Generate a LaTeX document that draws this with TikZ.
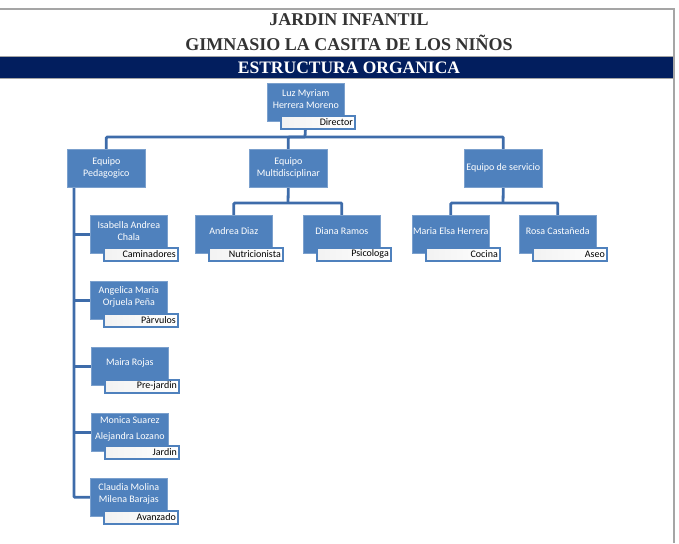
\documentclass[tikz,border=0pt]{standalone}
\usepackage{fontspec}
\setmainfont{Liberation Serif}
\newfontfamily\calibri{Carlito}
\usetikzlibrary{backgrounds}
\definecolor{boxblue}{RGB}{79,129,189}
\definecolor{lineblue}{RGB}{62,108,170}
\definecolor{navyband}{RGB}{2,30,94}
\definecolor{framegray}{RGB}{165,165,165}
\tikzset{
  personbox/.style={fill=boxblue, draw=boxblue!75!white, line width=0.6pt, minimum width=77pt, minimum height=38pt, anchor=north west, inner sep=0pt},
  teambox/.style={fill=boxblue, draw=boxblue!75!white, line width=0.6pt, minimum width=78pt, minimum height=38pt, anchor=north west, inner sep=0pt, text=white, align=center, font=\calibri\fontsize{10}{12}\selectfont},
  nametext/.style={text=white, font=\calibri\fontsize{10}{11.5}\selectfont, align=center, inner sep=0pt},
  titlebox/.style={shading=axis, left color=black!5, right color=white, draw=boxblue, line width=1.6pt, minimum width=74pt, minimum height=13pt, text width=70pt, align=right, anchor=north west, inner sep=1.8pt, font=\calibri\fontsize{10}{10}\selectfont},
  link/.style={draw=lineblue, line width=2.8pt, rounded corners=1pt},
  headtext/.style={font=\bfseries\fontsize{18}{20}\selectfont, text=black!80, anchor=base, inner sep=0pt},
}
\newcommand\orgperson[6][11.5]{%
  \node[personbox] (#2) at (#3,#4) {};
  \node[nametext, font=\calibri\fontsize{10}{#1}\selectfont] (#2-t) at ([yshift=-16pt]#2.north) {#5};
  \node[titlebox] (#2-l) at ([xshift=13pt,yshift=-32pt]#2.north west) {#6};
}
\begin{document}
\begin{tikzpicture}[x=1pt,y=-1pt]
\useasboundingbox (0,0) rectangle (679,543);
% frame and header
\fill[navyband] (0,57) rectangle (674,78);
\draw[framegray, line width=1.2pt] (0,9) -- (674,9) -- (674,543);
\draw[framegray, line width=0.8pt] (0,56.5) -- (674,56.5);
\draw[framegray, line width=0.8pt] (0,78.4) -- (674,78.4);
\node[headtext] (h1) at (349,26) {JARDIN INFANTIL};
\node[headtext] (h2) at (349,50) {GIMNASIO LA CASITA DE LOS NIÑOS};
\node[headtext, text=white, font=\bfseries\fontsize{17.5}{20}\selectfont] (h3) at (349,74) {ESTRUCTURA ORGANICA};
% top
\orgperson{dir}{267}{83}{Luz Myriam\\Herrera Moreno}{Director}
% teams
\node[teambox] (ped) at (67,149) {Equipo\\Pedagogico};
\node[teambox] (mul) at (249,149) {Equipo\\Multidisciplinar};
\node[teambox] (srv) at (464,149) {Equipo de servicio};
% multidisciplinar
\orgperson{ndz}{195}{215}{Andrea Diaz}{Nutricionista}
\orgperson{drm}{303}{215}{Diana Ramos}{Psicologa}
% servicio
\orgperson{meh}{412}{215}{Maria Elsa Herrera}{Cocina}
\orgperson{rca}{519}{215}{Rosa Castañeda}{Aseo}
% pedagogico
\orgperson{isa}{90}{215}{Isabella Andrea\\Chala}{Caminadores}
\orgperson{ang}{90}{281}{Angelica Maria\\Orjuela Peña}{Pàrvulos}
\orgperson{mai}{91}{347}{Maira Rojas}{Pre-jardin}
\orgperson[16]{mon}{91}{413}{Monica Suarez\\Alejandra Lozano}{Jardin}
\orgperson{cla}{90}{478}{Claudia Molina\\Milena Barajas}{Avanzado}
% connectors
\coordinate (bus1) at (305,137);
\coordinate (bus2) at (288,203);
\coordinate (bus3) at (503,203);
\coordinate (pedl) at ([xshift=7pt]ped.south west);
\begin{scope}[on background layer]
\draw[link] (dir.south) -- (bus1);
\draw[link] (ped.north) |- (bus1) -| (srv.north);
\draw[link] (bus1) -| (mul.north);
\draw[link] (mul.south) -- (bus2);
\draw[link] (ndz.north) |- (bus2) -| (drm.north);
\draw[link] (srv.south) -- (bus3);
\draw[link] (meh.north) |- (bus3) -| (rca.north);
\draw[link] (pedl) |- (cla.west);
\draw[link] (pedl |- isa.west) -- (isa.west);
\draw[link] (pedl |- ang.west) -- (ang.west);
\draw[link] (pedl |- mai.west) -- (mai.west);
\draw[link] (pedl |- mon.west) -- (mon.west);
\end{scope}
\end{tikzpicture}
\end{document}
